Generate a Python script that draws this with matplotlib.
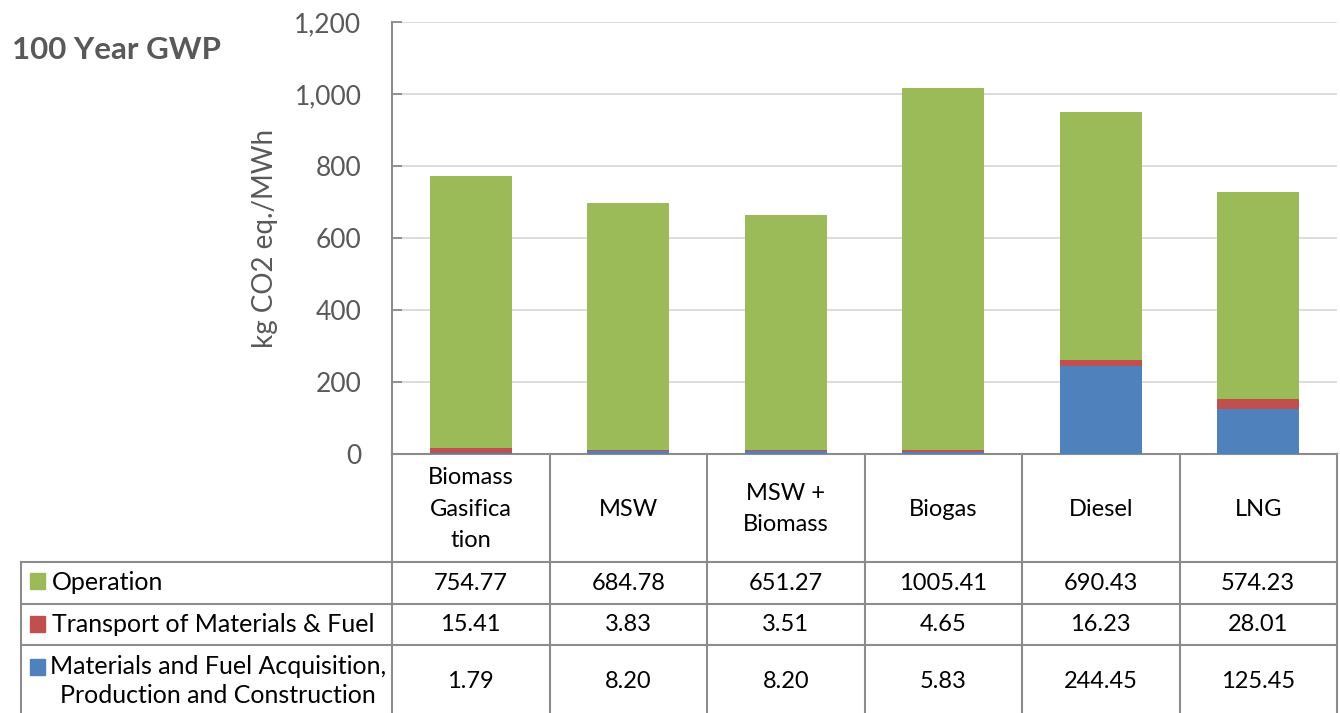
import numpy as np
import matplotlib
matplotlib.use("Agg")
import matplotlib.pyplot as plt
import matplotlib.transforms as mtransforms
from matplotlib.lines import Line2D
from matplotlib.patches import Rectangle

plt.rcParams['font.family'] = ['Lato', 'DejaVu Sans']

# dados
categories = ["Biomass\nGasifica\ntion", "MSW", "MSW +\nBiomass", "Biogas", "Diesel", "LNG"]
series_names = ["Operation", "Transport of Materials & Fuel",
                "Materials and Fuel Acquisition,\nProduction and Construction"]
operation = [754.77, 684.78, 651.27, 1005.41, 690.43, 574.23]
transport = [15.41, 3.83, 3.51, 4.65, 16.23, 28.01]
materials = [1.79, 8.20, 8.20, 5.83, 244.45, 125.45]
yticks = [0, 200, 400, 600, 800, 1000, 1200]

c_green = '#9BBB59'
c_red = '#C0504D'
c_blue = '#4F81BD'
c_text = '#595959'
c_line = '#8C8C8C'

W, H = 1340, 713
fig = plt.figure(figsize=(W / 100, H / 100), dpi=100)

def fy(y):
    # pixel do topo -> fração da figura
    return 1 - y / H

def fx(x):
    return x / W

ax = fig.add_axes([fx(392), fy(454), fx(1337) - fx(392), fy(22) - fy(454)])
x = np.arange(len(categories))
bw = 0.52
ax.bar(x, materials, bw, color=c_blue, zorder=3)
ax.bar(x, transport, bw, bottom=materials, color=c_red, zorder=3)
ax.bar(x, operation, bw, bottom=np.array(materials) + np.array(transport), color=c_green, zorder=3)

ax.set_xlim(-0.5, len(categories) - 0.5)
ax.set_ylim(0, 1200)
ax.set_yticks(yticks)
ax.set_yticklabels([f"{v:,}" for v in yticks])
ax.set_xticks([])
ax.tick_params(axis='y', direction='in', length=7, width=1.3, color=c_line,
               labelsize=19, labelcolor=c_text, pad=22)
ax.grid(axis='y', color='#D9D9D9', lw=1.3, zorder=0)
for s in ['top', 'right']:
    ax.spines[s].set_visible(False)
for s in ['left', 'bottom']:
    ax.spines[s].set_color(c_line)
    ax.spines[s].set_linewidth(1.5)

ax.set_ylabel("kg CO2 eq./MWh", fontsize=20, color=c_text, labelpad=12)
fig.text(fx(12), fy(50), "100 Year GWP", fontsize=22.5, fontweight='bold',
         color=c_text, ha='left', va='center')

# tabela de dados
blend = mtransforms.blended_transform_factory(ax.transData, fig.transFigure)
rows_y = [562, 604, 645, 720]
row_centers = [583, 624.5, 681]

for b in np.arange(-0.5, len(categories)):
    fig.add_artist(Line2D([b, b], [fy(454), fy(720)], transform=blend,
                          color=c_line, lw=1.5, clip_on=False))
for ry in rows_y:
    fig.add_artist(Line2D([fx(21), fx(1337)], [fy(ry), fy(ry)],
                          color=c_line, lw=1.5))
fig.add_artist(Line2D([fx(21), fx(21)], [fy(562), fy(720)], color=c_line, lw=1.5))

for i, cat in enumerate(categories):
    fig.text(i, fy(509), cat, transform=blend, ha='center', va='center',
             fontsize=17, linespacing=1.6, color='black')

values = [operation, transport, materials]
colors = [c_green, c_red, c_blue]
for r, (vals, yc) in enumerate(zip(values, row_centers)):
    for i, v in enumerate(vals):
        fig.text(i, fy(yc), f"{v:.2f}", transform=blend, ha='center', va='center',
                 fontsize=17, color='black')

# rótulos das linhas com quadradinhos da legenda
sq_top = [573, 616, 659]
for name, col, yc, st in zip(series_names, colors, row_centers, sq_top):
    fig.add_artist(Rectangle((fx(30), fy(st + 16)), fx(15), fy(st) - fy(st + 16),
                             color=col, transform=fig.transFigure))
    if "\n" in name:
        fig.text(fx(218), fy(yc), name, ha='center', va='center', fontsize=18,
                 linespacing=1.3, multialignment='center', color='black')
    else:
        fig.text(fx(52), fy(yc), name, ha='left', va='center', fontsize=18, color='black')

fig.savefig("out.png", dpi=100)
